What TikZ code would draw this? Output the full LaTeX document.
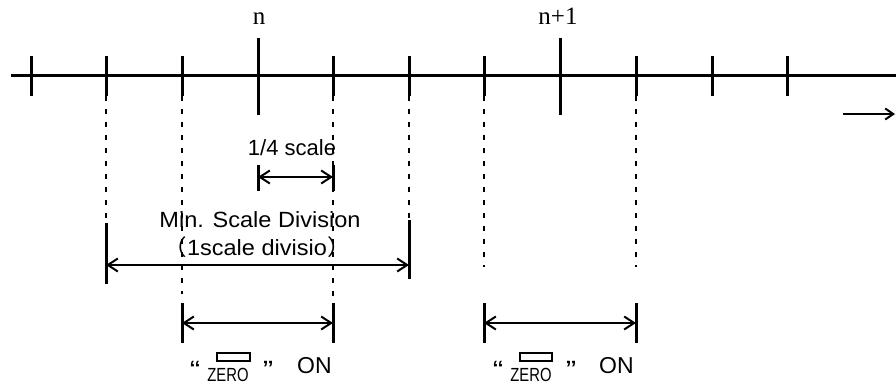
\documentclass[tikz,border=0pt]{standalone}
\usepackage{fontspec}
\setmainfont{Liberation Sans}
\newfontfamily\tnr{Liberation Serif}
\newfontfamily\cjk{Noto Sans CJK SC}
\usetikzlibrary{arrows.meta}
\begin{document}
\begin{tikzpicture}[x=1pt,y=-1pt,
  axisline/.style={line width=3pt},
  tickmark/.style={line width=3pt},
  guide/.style={line width=2pt, dash pattern=on 5pt off 8pt},
  dimline/.style={line width=2.6pt, {Straight Barb[length=10pt,width=13pt,line width=2pt]}-{Straight Barb[length=10pt,width=13pt,line width=2pt]}},
  sanslbl/.style={font=\fontsize{22}{24}\selectfont, inner sep=0pt, anchor=base},
  seriflbl/.style={font=\tnr\fontsize{25}{27}\selectfont, inner sep=0pt, anchor=base},
  quotelbl/.style={font=\fontsize{25}{27}\selectfont, inner sep=0pt, anchor=base, xscale=1.25},
  zerolbl/.style={font=\fontsize{19}{21}\selectfont, inner sep=0pt, anchor=base, xscale=0.78},
  onlbl/.style={font=\fontsize{23}{25}\selectfont, inner sep=0pt, anchor=base west},
]
\useasboundingbox (0,0) rectangle (896,385);
% axis
\coordinate (axL) at (11,76);
\coordinate (axR) at (896,76);
\draw[axisline] (axL) -- (axR);
% short ticks
\foreach \x in {31,106,182,333,409,484,636,712,787}{
  \draw[tickmark] (\x,56) -- (\x,96);
}
% long ticks
\draw[tickmark] (258,38) -- (258,115);
\draw[tickmark] (560,38) -- (560,115);
\node[seriflbl] (lblN) at (259,25) {n};
\node[seriflbl] (lblN1) at (558,25) {n+1};
% direction arrow
\coordinate (dirA) at (843,114);
\coordinate (dirB) at (895,114);
\draw[line width=2.6pt, -{Straight Barb[length=8pt,width=11pt,line width=2pt]}] (dirA) -- (dirB);
% guides (dashed)
\draw[guide] (106,96) -- (106,224);
\draw[guide] (409,96) -- (409,222);
\draw[guide] (182,96) -- (182,294);
\draw[guide] (333,96) -- (333,300);
\draw[guide] (484,96) -- (484,267);
\draw[guide] (636,96) -- (636,267);
% 1/4 scale
\draw[tickmark] (258,165) -- (258,191);
\draw[tickmark] (333,165) -- (333,191);
\coordinate (qA) at (258,177);
\coordinate (qB) at (333,177);
\draw[dimline] (qA) -- (qB);
\node[sanslbl] (lblQ) at (292,155) {1/4 scale};
% min scale division
\draw[tickmark] (106,223) -- (106,284);
\draw[tickmark] (409,220) -- (409,279);
\coordinate (mA) at (106,265);
\coordinate (mB) at (409,265);
\draw[dimline] (mA) -- (mB);
\node[sanslbl, xscale=1.07] (lblMin) at (260,227) {Min. Scale Division};
\node[sanslbl, xscale=1.07] (lblOne) at (257,255) {{\cjk （}1scale divisio{\cjk ）}};
% bottom spans
\foreach \x in {182,333,484,636}{
  \draw[tickmark] (\x,303) -- (\x,343);
}
\coordinate (b1A) at (182,323);
\coordinate (b1B) at (333,323);
\coordinate (b2A) at (484,323);
\coordinate (b2B) at (636,323);
\draw[dimline] (b1A) -- (b1B);
\draw[dimline] (b2A) -- (b2B);
% ZERO labels
\node[quotelbl] (q1L) at (195,378) {“};
\draw[line width=1.5pt] (217,353) rectangle (250,361);
\node[zerolbl] (z1) at (228,381) {ZERO};
\node[quotelbl] (q1R) at (268,378) {”};
\node[onlbl] (on1) at (297,373) {ON};
\node[quotelbl] (q2L) at (498,378) {“};
\draw[line width=1.5pt] (520,353) rectangle (552,361);
\node[zerolbl] (z2) at (531,381) {ZERO};
\node[quotelbl] (q2R) at (571,378) {”};
\node[onlbl] (on2) at (599,373) {ON};
\end{tikzpicture}
\end{document}
